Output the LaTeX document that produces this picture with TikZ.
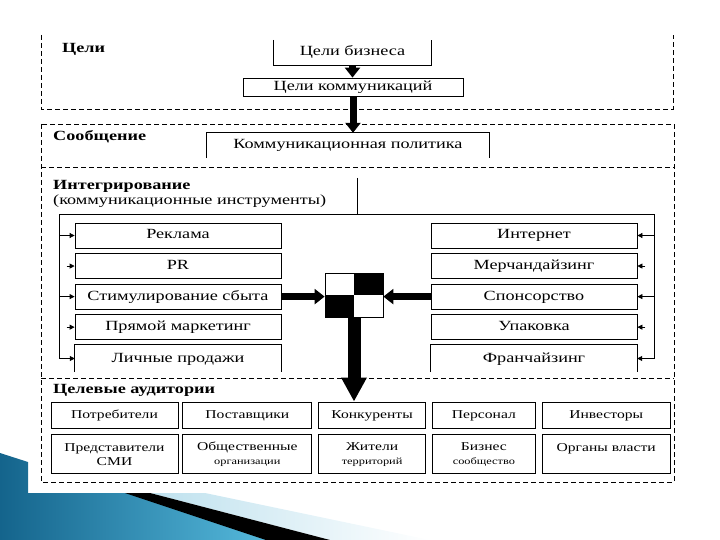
\documentclass[tikz,border=0pt]{standalone}
\usepackage{fontspec}
\setmainfont[FakeStretch=1.3]{Liberation Serif}
\usepackage{xcolor}
\usepackage{tikz}
\usetikzlibrary{arrows.meta,positioning}

\definecolor{slidedark}{RGB}{20,100,140}
\definecolor{slidelight}{RGB}{85,185,220}
\definecolor{slidepale}{RGB}{190,225,238}
\newcommand{\smalltext}{\fontsize{9.5}{12}\selectfont}

\begin{document}
\begin{tikzpicture}[x=1pt, y=-1pt,
  node distance=4pt,
  box/.style={rectangle, draw, line width=0.8pt, inner sep=0pt, text centered, text height=10pt, text depth=3pt, font=\fontsize{14}{16}\selectfont},
  openbox/.style={rectangle, inner sep=0pt, text centered, text height=10pt, text depth=3pt, font=\fontsize{14}{16}\selectfont},
  tool/.style={box, minimum width=206pt, minimum height=25pt},
  aud/.style={rectangle, draw, line width=0.8pt, inner sep=0pt, align=center, minimum height=26pt, font=\fontsize{12}{14}\selectfont},
  audone/.style={aud, text height=9pt, text depth=3pt},
  head/.style={anchor=west, inner sep=0pt, font=\fontsize{14}{16}\selectfont\bfseries},
  zone/.style={dash pattern=on 5pt off 3pt, line width=0.8pt},
  frame/.style={line width=0.8pt},
  pinarrow/.style={-{Triangle[length=5pt,width=5pt]}, line width=0.8pt},
  fatarrow/.style={-{Triangle[length=10pt,width=15pt]}, line width=7pt},
  bigarrow/.style={-{Triangle[length=24pt,width=24pt]}, line width=13pt}
]
\useasboundingbox (0,0) rectangle (720,540);

% slide decoration
\shade[left color=slidedark, right color=slidelight] (0,453) -- (28,462) -- (28,493) -- (127,493) -- (268,540) -- (0,540) -- cycle;
\shade[left color=slidepale, right color=white] (150,493) -- (205,493) -- (430,540) -- (330,540) -- cycle;
\fill[black] (125,493) -- (150,493) -- (330,540) -- (266,540) -- cycle;

% zones
\draw[zone] (41,35) -- (41,109) -- (673,109) -- (673,35);
\draw[zone] (41,124) rectangle (674,482);
\draw[zone] (41,167) -- (674,167);
\draw[zone] (41,378) -- (674,378);

% goals
\node[head] (goals) at (62,49) {Цели};
\node[openbox, minimum width=157pt, minimum height=25pt] (biz) at (352.5,52.5) {Цели бизнеса};
\draw[frame] (biz.north west) -- (biz.south west) -- (biz.south east) -- (biz.north east);
\node[box, minimum width=220pt, minimum height=18pt] (comm) at (353,87) {Цели коммуникаций};

% message
\node[head] (msg) at (53,137) {Сообщение};
\node[openbox, minimum width=282pt, minimum height=25pt] (pol) at (348,145.5) {Коммуникационная политика};
\draw[frame] (pol.south west) -- (pol.north west) -- (pol.north east) -- (pol.south east);

\draw[fatarrow] (biz.south) -- (biz.south |- comm.north);
\draw[fatarrow] (comm.south) -- (comm.south |- pol.north);

% integration
\node[anchor=north west, inner sep=0pt, align=left, font=\fontsize{14}{15}\selectfont] (integ) at (53,180) {\textbf{Интегрирование}\\(коммуникационные инструменты)};
\coordinate (fl) at (59,214);
\coordinate (fr) at (654,214);
\coordinate (div) at (357,178);

\node[tool] (l1) at (178,235.5) {Реклама};
\node[tool, below=4.75pt of l1] (l2) {PR};
\node[tool, below=4.75pt of l2] (l3) {Стимулирование сбыта};
\node[tool, below=4.75pt of l3] (l4) {Прямой маркетинг};
\node[openbox, minimum width=206pt, minimum height=27pt, below=4.75pt of l4] (l5) {Личные продажи};
\draw[frame] (l5.south west) -- (l5.north west) -- (l5.north east) -- (l5.south east);

\node[tool] (r1) at (534,235.5) {Интернет};
\node[tool, below=4.75pt of r1] (r2) {Мерчандайзинг};
\node[tool, below=4.75pt of r2] (r3) {Спонсорство};
\node[tool, below=4.75pt of r3] (r4) {Упаковка};
\node[openbox, minimum width=206pt, minimum height=27pt, below=4.75pt of r4] (r5) {Франчайзинг};
\draw[frame] (r5.south west) -- (r5.north west) -- (r5.north east) -- (r5.south east);

\draw[frame] (fl |- l5) -- (fl) -- (fr) -- (fr |- r5);
\draw[frame] (div) -- (div |- fl);
\foreach \n in {1,3,5} {
  \draw[pinarrow] (fl |- l\n) -- (l\n);
  \draw[pinarrow] (fr |- r\n) -- (r\n);
}
\foreach \n in {2,4} {
  \draw[pinarrow] ([xshift=-8pt]l\n.west) -- (l\n);
  \draw[pinarrow] ([xshift=8pt]r\n.east) -- (r\n);
}

\node[box, minimum width=58pt, minimum height=44pt] (mix) at (354,295) {};
\fill (mix.center) rectangle (mix.north east);
\fill (mix.center) rectangle (mix.south west);
\draw[fatarrow] (l3.east) -- (l3.east -| mix.west);
\draw[fatarrow] (r3.west) -- (r3.west -| mix.east);

% target audiences
\node[head] (aud) at (53,390) {Целевые аудитории};
\node[audone, minimum width=127pt] (a1) at (114.5,415) {Потребители};
\node[audone, minimum width=129pt, right=4pt of a1] (a2) {Поставщики};
\node[audone, minimum width=107pt, right=6pt of a2] (a3) {Конкуренты};
\node[audone, minimum width=103pt, right=6pt of a3] (a4) {Персонал};
\node[audone, minimum width=128pt, right=6pt of a4] (a5) {Инвесторы};
\node[aud, minimum width=127pt, minimum height=39pt, below=6pt of a1] (s1) {Представители\\СМИ};
\node[aud, minimum width=129pt, minimum height=39pt, below=6pt of a2] (s2) {Общественные\\{\smalltext организации}};
\node[aud, minimum width=107pt, minimum height=39pt, below=6pt of a3] (s3) {Жители\\{\smalltext территорий}};
\node[aud, minimum width=103pt, minimum height=39pt, below=6pt of a4] (s4) {Бизнес\\{\smalltext сообщество}};
\node[aud, minimum width=128pt, minimum height=39pt, below=6pt of a5] (s5) {Органы власти\\\phantom{С}};

\draw[bigarrow] (mix.south) -- (mix.south |- a3.north);
\end{tikzpicture}
\end{document}
